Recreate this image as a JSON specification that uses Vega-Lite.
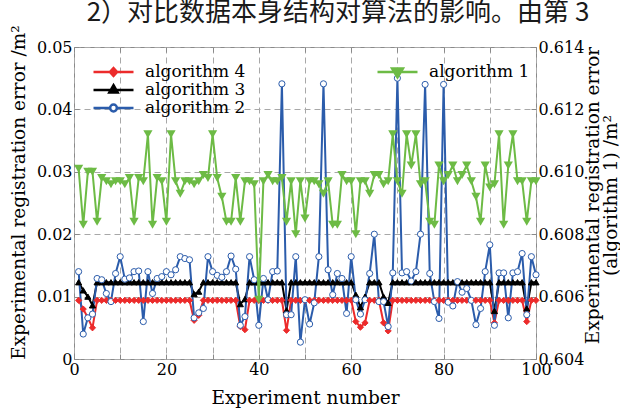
{
  "$schema": "https://vega.github.io/schema/vega-lite/v6.json",
  "width": 462,
  "height": 312,
  "autosize": {"type": "none"},
  "padding": {"left": 74, "top": 47, "right": 84, "bottom": 51},
  "background": "white",
  "title": {
    "text": "2）对比数据本身结构对算法的影响。由第 3",
    "anchor": "middle",
    "font": "Noto Sans CJK SC",
    "fontSize": 26,
    "fontWeight": "normal",
    "color": "#1a1a1a",
    "offset": 17,
    "dx": 33,
    "dy": 18
  },
  "config": {
    "font": "DejaVu Serif",
    "title": {"fontSize": 26, "font": "Noto Sans CJK SC", "fontWeight": "normal"},
    "view": {"stroke": "#8a8a8a", "strokeWidth": 1},
    "axis": {
      "labelFont": "DejaVu Serif",
      "labelFontSize": 16,
      "labelColor": "#000000",
      "titleFont": "DejaVu Serif",
      "titleFontSize": 18.5,
      "titleFontWeight": "normal",
      "titleColor": "#000000",
      "tickColor": "#8a8a8a",
      "tickSize": -5,
      "labelPadding": 7,
      "domain": false,
      "gridColor": "#a8a8a8",
      "gridDash": [6, 4],
      "gridWidth": 1,
      "labelFlush": false
    },
    "legend": {
      "labelFont": "DejaVu Serif",
      "labelFontSize": 17,
      "labelColor": "#000000"
    }
  },
  "data": {
    "values": [
      {"x":1,"algorithm 1":0.6101,"algorithm 2":0.0140,"algorithm 3":0.0123,"algorithm 4":0.0094},
      {"x":2,"algorithm 1":0.6083,"algorithm 2":0.0040,"algorithm 3":0.0110,"algorithm 4":0.0080},
      {"x":3,"algorithm 1":0.6100,"algorithm 2":0.0066,"algorithm 3":0.0100,"algorithm 4":0.0066},
      {"x":4,"algorithm 1":0.6100,"algorithm 2":0.0072,"algorithm 3":0.0086,"algorithm 4":0.0050},
      {"x":5,"algorithm 1":0.6084,"algorithm 2":0.0129,"algorithm 3":0.0123,"algorithm 4":0.0094},
      {"x":6,"algorithm 1":0.6098,"algorithm 2":0.0127,"algorithm 3":0.0123,"algorithm 4":0.0094},
      {"x":7,"algorithm 1":0.6097,"algorithm 2":0.0105,"algorithm 3":0.0123,"algorithm 4":0.0094},
      {"x":8,"algorithm 1":0.6096,"algorithm 2":0.0092,"algorithm 3":0.0123,"algorithm 4":0.0094},
      {"x":9,"algorithm 1":0.6097,"algorithm 2":0.0137,"algorithm 3":0.0123,"algorithm 4":0.0094},
      {"x":10,"algorithm 1":0.6097,"algorithm 2":0.0164,"algorithm 3":0.0123,"algorithm 4":0.0094},
      {"x":11,"algorithm 1":0.6096,"algorithm 2":0.0128,"algorithm 3":0.0123,"algorithm 4":0.0094},
      {"x":12,"algorithm 1":0.6098,"algorithm 2":0.0130,"algorithm 3":0.0123,"algorithm 4":0.0094},
      {"x":13,"algorithm 1":0.6084,"algorithm 2":0.0140,"algorithm 3":0.0123,"algorithm 4":0.0094},
      {"x":14,"algorithm 1":0.6098,"algorithm 2":0.0141,"algorithm 3":0.0123,"algorithm 4":0.0094},
      {"x":15,"algorithm 1":0.6097,"algorithm 2":0.0060,"algorithm 3":0.0123,"algorithm 4":0.0094},
      {"x":16,"algorithm 1":0.6112,"algorithm 2":0.0140,"algorithm 3":0.0123,"algorithm 4":0.0094},
      {"x":17,"algorithm 1":0.6083,"algorithm 2":0.0105,"algorithm 3":0.0123,"algorithm 4":0.0094},
      {"x":18,"algorithm 1":0.6098,"algorithm 2":0.0129,"algorithm 3":0.0123,"algorithm 4":0.0094},
      {"x":19,"algorithm 1":0.6097,"algorithm 2":0.0132,"algorithm 3":0.0123,"algorithm 4":0.0094},
      {"x":20,"algorithm 1":0.6084,"algorithm 2":0.0140,"algorithm 3":0.0123,"algorithm 4":0.0094},
      {"x":21,"algorithm 1":0.6112,"algorithm 2":0.0135,"algorithm 3":0.0123,"algorithm 4":0.0094},
      {"x":22,"algorithm 1":0.6097,"algorithm 2":0.0143,"algorithm 3":0.0123,"algorithm 4":0.0094},
      {"x":23,"algorithm 1":0.6093,"algorithm 2":0.0164,"algorithm 3":0.0123,"algorithm 4":0.0094},
      {"x":24,"algorithm 1":0.6097,"algorithm 2":0.0161,"algorithm 3":0.0123,"algorithm 4":0.0094},
      {"x":25,"algorithm 1":0.6097,"algorithm 2":0.0159,"algorithm 3":0.0123,"algorithm 4":0.0094},
      {"x":26,"algorithm 1":0.6096,"algorithm 2":0.0066,"algorithm 3":0.0104,"algorithm 4":0.0062},
      {"x":27,"algorithm 1":0.6097,"algorithm 2":0.0074,"algorithm 3":0.0108,"algorithm 4":0.0070},
      {"x":28,"algorithm 1":0.6099,"algorithm 2":0.0081,"algorithm 3":0.0123,"algorithm 4":0.0094},
      {"x":29,"algorithm 1":0.6098,"algorithm 2":0.0164,"algorithm 3":0.0123,"algorithm 4":0.0094},
      {"x":30,"algorithm 1":0.6112,"algorithm 2":0.0140,"algorithm 3":0.0123,"algorithm 4":0.0094},
      {"x":31,"algorithm 1":0.6098,"algorithm 2":0.0134,"algorithm 3":0.0123,"algorithm 4":0.0094},
      {"x":32,"algorithm 1":0.6092,"algorithm 2":0.0131,"algorithm 3":0.0123,"algorithm 4":0.0094},
      {"x":33,"algorithm 1":0.6084,"algorithm 2":0.0140,"algorithm 3":0.0123,"algorithm 4":0.0094},
      {"x":34,"algorithm 1":0.6084,"algorithm 2":0.0165,"algorithm 3":0.0123,"algorithm 4":0.0094},
      {"x":35,"algorithm 1":0.6098,"algorithm 2":0.0144,"algorithm 3":0.0123,"algorithm 4":0.0094},
      {"x":36,"algorithm 1":0.6084,"algorithm 2":0.0054,"algorithm 3":0.0088,"algorithm 4":0.0052},
      {"x":37,"algorithm 1":0.6097,"algorithm 2":0.0068,"algorithm 3":0.0096,"algorithm 4":0.0047},
      {"x":38,"algorithm 1":0.6097,"algorithm 2":0.0164,"algorithm 3":0.0123,"algorithm 4":0.0094},
      {"x":39,"algorithm 1":0.6096,"algorithm 2":0.0127,"algorithm 3":0.0123,"algorithm 4":0.0094},
      {"x":40,"algorithm 1":0.6059,"algorithm 2":0.0054,"algorithm 3":0.0123,"algorithm 4":0.0094},
      {"x":41,"algorithm 1":0.6097,"algorithm 2":0.0129,"algorithm 3":0.0123,"algorithm 4":0.0094},
      {"x":42,"algorithm 1":0.6099,"algorithm 2":0.0095,"algorithm 3":0.0123,"algorithm 4":0.0094},
      {"x":43,"algorithm 1":0.6097,"algorithm 2":0.0140,"algorithm 3":0.0123,"algorithm 4":0.0094},
      {"x":44,"algorithm 1":0.6097,"algorithm 2":0.0141,"algorithm 3":0.0123,"algorithm 4":0.0094},
      {"x":45,"algorithm 1":0.6098,"algorithm 2":0.0441,"algorithm 3":0.0123,"algorithm 4":0.0094},
      {"x":46,"algorithm 1":0.6084,"algorithm 2":0.0071,"algorithm 3":0.0078,"algorithm 4":0.0046},
      {"x":47,"algorithm 1":0.6097,"algorithm 2":0.0071,"algorithm 3":0.0123,"algorithm 4":0.0094},
      {"x":48,"algorithm 1":0.6080,"algorithm 2":0.0164,"algorithm 3":0.0123,"algorithm 4":0.0094},
      {"x":49,"algorithm 1":0.6097,"algorithm 2":0.0027,"algorithm 3":0.0123,"algorithm 4":0.0094},
      {"x":50,"algorithm 1":0.6085,"algorithm 2":0.0095,"algorithm 3":0.0123,"algorithm 4":0.0094},
      {"x":51,"algorithm 1":0.6097,"algorithm 2":0.0056,"algorithm 3":0.0123,"algorithm 4":0.0094},
      {"x":52,"algorithm 1":0.6097,"algorithm 2":0.0090,"algorithm 3":0.0123,"algorithm 4":0.0094},
      {"x":53,"algorithm 1":0.6096,"algorithm 2":0.0164,"algorithm 3":0.0123,"algorithm 4":0.0094},
      {"x":54,"algorithm 1":0.6093,"algorithm 2":0.0441,"algorithm 3":0.0123,"algorithm 4":0.0094},
      {"x":55,"algorithm 1":0.6097,"algorithm 2":0.0143,"algorithm 3":0.0123,"algorithm 4":0.0094},
      {"x":56,"algorithm 1":0.6083,"algorithm 2":0.0103,"algorithm 3":0.0123,"algorithm 4":0.0094},
      {"x":57,"algorithm 1":0.6083,"algorithm 2":0.0137,"algorithm 3":0.0123,"algorithm 4":0.0094},
      {"x":58,"algorithm 1":0.6099,"algorithm 2":0.0129,"algorithm 3":0.0123,"algorithm 4":0.0094},
      {"x":59,"algorithm 1":0.6097,"algorithm 2":0.0073,"algorithm 3":0.0123,"algorithm 4":0.0094},
      {"x":60,"algorithm 1":0.6097,"algorithm 2":0.0164,"algorithm 3":0.0123,"algorithm 4":0.0094},
      {"x":61,"algorithm 1":0.6080,"algorithm 2":0.0095,"algorithm 3":0.0103,"algorithm 4":0.0060},
      {"x":62,"algorithm 1":0.6097,"algorithm 2":0.0072,"algorithm 3":0.0083,"algorithm 4":0.0051},
      {"x":63,"algorithm 1":0.6097,"algorithm 2":0.0095,"algorithm 3":0.0100,"algorithm 4":0.0058},
      {"x":64,"algorithm 1":0.6093,"algorithm 2":0.0137,"algorithm 3":0.0123,"algorithm 4":0.0094},
      {"x":65,"algorithm 1":0.6099,"algorithm 2":0.0200,"algorithm 3":0.0123,"algorithm 4":0.0094},
      {"x":66,"algorithm 1":0.6099,"algorithm 2":0.0092,"algorithm 3":0.0123,"algorithm 4":0.0094},
      {"x":67,"algorithm 1":0.6096,"algorithm 2":0.0092,"algorithm 3":0.0100,"algorithm 4":0.0058},
      {"x":68,"algorithm 1":0.6097,"algorithm 2":0.0052,"algorithm 3":0.0090,"algorithm 4":0.0045},
      {"x":69,"algorithm 1":0.6112,"algorithm 2":0.0138,"algorithm 3":0.0123,"algorithm 4":0.0094},
      {"x":70,"algorithm 1":0.6097,"algorithm 2":0.0450,"algorithm 3":0.0123,"algorithm 4":0.0094},
      {"x":71,"algorithm 1":0.6093,"algorithm 2":0.0138,"algorithm 3":0.0123,"algorithm 4":0.0094},
      {"x":72,"algorithm 1":0.6112,"algorithm 2":0.0140,"algorithm 3":0.0123,"algorithm 4":0.0094},
      {"x":73,"algorithm 1":0.6102,"algorithm 2":0.0125,"algorithm 3":0.0123,"algorithm 4":0.0094},
      {"x":74,"algorithm 1":0.6112,"algorithm 2":0.0140,"algorithm 3":0.0123,"algorithm 4":0.0094},
      {"x":75,"algorithm 1":0.6096,"algorithm 2":0.0200,"algorithm 3":0.0123,"algorithm 4":0.0094},
      {"x":76,"algorithm 1":0.6097,"algorithm 2":0.0440,"algorithm 3":0.0123,"algorithm 4":0.0094},
      {"x":77,"algorithm 1":0.6084,"algorithm 2":0.0137,"algorithm 3":0.0123,"algorithm 4":0.0094},
      {"x":78,"algorithm 1":0.6083,"algorithm 2":0.0092,"algorithm 3":0.0123,"algorithm 4":0.0094},
      {"x":79,"algorithm 1":0.6102,"algorithm 2":0.0065,"algorithm 3":0.0123,"algorithm 4":0.0094},
      {"x":80,"algorithm 1":0.6097,"algorithm 2":0.0440,"algorithm 3":0.0123,"algorithm 4":0.0094},
      {"x":81,"algorithm 1":0.6099,"algorithm 2":0.0091,"algorithm 3":0.0123,"algorithm 4":0.0094},
      {"x":82,"algorithm 1":0.6102,"algorithm 2":0.0085,"algorithm 3":0.0123,"algorithm 4":0.0094},
      {"x":83,"algorithm 1":0.6097,"algorithm 2":0.0124,"algorithm 3":0.0123,"algorithm 4":0.0094},
      {"x":84,"algorithm 1":0.6099,"algorithm 2":0.0107,"algorithm 3":0.0123,"algorithm 4":0.0094},
      {"x":85,"algorithm 1":0.6102,"algorithm 2":0.0113,"algorithm 3":0.0123,"algorithm 4":0.0094},
      {"x":86,"algorithm 1":0.6097,"algorithm 2":0.0094,"algorithm 3":0.0123,"algorithm 4":0.0094},
      {"x":87,"algorithm 1":0.6092,"algorithm 2":0.0055,"algorithm 3":0.0123,"algorithm 4":0.0094},
      {"x":88,"algorithm 1":0.6084,"algorithm 2":0.0081,"algorithm 3":0.0123,"algorithm 4":0.0094},
      {"x":89,"algorithm 1":0.6102,"algorithm 2":0.0140,"algorithm 3":0.0123,"algorithm 4":0.0094},
      {"x":90,"algorithm 1":0.6095,"algorithm 2":0.0183,"algorithm 3":0.0123,"algorithm 4":0.0094},
      {"x":91,"algorithm 1":0.6096,"algorithm 2":0.0054,"algorithm 3":0.0077,"algorithm 4":0.0058},
      {"x":92,"algorithm 1":0.6112,"algorithm 2":0.0138,"algorithm 3":0.0123,"algorithm 4":0.0094},
      {"x":93,"algorithm 1":0.6083,"algorithm 2":0.0138,"algorithm 3":0.0123,"algorithm 4":0.0094},
      {"x":94,"algorithm 1":0.6102,"algorithm 2":0.0066,"algorithm 3":0.0123,"algorithm 4":0.0094},
      {"x":95,"algorithm 1":0.6112,"algorithm 2":0.0138,"algorithm 3":0.0123,"algorithm 4":0.0094},
      {"x":96,"algorithm 1":0.6097,"algorithm 2":0.0140,"algorithm 3":0.0123,"algorithm 4":0.0094},
      {"x":97,"algorithm 1":0.6097,"algorithm 2":0.0169,"algorithm 3":0.0123,"algorithm 4":0.0094},
      {"x":98,"algorithm 1":0.6084,"algorithm 2":0.0071,"algorithm 3":0.0081,"algorithm 4":0.0060},
      {"x":99,"algorithm 1":0.6097,"algorithm 2":0.0164,"algorithm 3":0.0123,"algorithm 4":0.0094},
      {"x":100,"algorithm 1":0.6097,"algorithm 2":0.0135,"algorithm 3":0.0123,"algorithm 4":0.0094}
    ]
  },
  "layer": [
    {
      "transform": [{"fold": ["algorithm 4", "algorithm 3", "algorithm 2"], "as": ["series", "v"]}],
      "encoding": {
        "x": {
          "field": "x",
          "type": "quantitative",
          "scale": {"domain": [0, 100], "nice": false, "zero": false},
          "axis": {
            "orient": "bottom",
            "values": [0, 10, 20, 30, 40, 50, 60, 70, 80, 90, 100],
            "labelExpr": "datum.value % 20 == 0 ? datum.label : ''",
            "grid": true,
            "title": "Experiment number",
            "titlePadding": 11
          }
        },
        "y": {
          "field": "v",
          "type": "quantitative",
          "scale": {"domain": [0, 0.05], "nice": false, "zero": false},
          "axis": {
            "orient": "left",
            "values": [0, 0.01, 0.02, 0.03, 0.04, 0.05],
            "format": ".2~f",
            "grid": true,
            "title": "Experimental registration error /m²",
            "titleX": -56,
            "titleY": 145,
            "titleAngle": -90,
            "titleAlign": "center",
            "titleBaseline": "middle"
          }
        }
      },
      "layer": [
        {
          "mark": {"type": "line", "strokeWidth": 2},
          "encoding": {
            "color": {
              "field": "series",
              "type": "nominal",
              "scale": {"domain": ["algorithm 4", "algorithm 3", "algorithm 2"], "range": ["#ec2b2b", "#000000", "#2b5cab"]},
              "legend": null
            }
          }
        },
        {
          "mark": {"type": "point", "opacity": 1},
          "encoding": {
            "shape": {
              "field": "series",
              "type": "nominal",
              "scale": {"domain": ["algorithm 4", "algorithm 3", "algorithm 2"], "range": ["diamond", "triangle-up", "circle"]},
              "legend": null
            },
            "fill": {
              "field": "series",
              "type": "nominal",
              "scale": {"domain": ["algorithm 4", "algorithm 3", "algorithm 2"], "range": ["#ec2b2b", "#000000", "#ffffff"]},
              "legend": null
            },
            "stroke": {
              "field": "series",
              "type": "nominal",
              "scale": {"domain": ["algorithm 4", "algorithm 3", "algorithm 2"], "range": ["#ec2b2b", "#000000", "#2b5cab"]},
              "legend": null
            },
            "size": {
              "field": "series",
              "type": "nominal",
              "scale": {"domain": ["algorithm 4", "algorithm 3", "algorithm 2"], "range": [38, 38, 42]},
              "legend": null
            },
            "strokeWidth": {
              "field": "series",
              "type": "nominal",
              "scale": {"domain": ["algorithm 4", "algorithm 3", "algorithm 2"], "range": [1, 1, 1.8]},
              "legend": null
            }
          }
        },
        {
          "transform": [{"filter": "datum.x < 0"}],
          "mark": {"type": "point", "opacity": 1},
          "encoding": {
            "shape": {
              "field": "series",
              "type": "nominal",
              "scale": {"domain": ["algorithm 4", "algorithm 3", "algorithm 2"], "range": [
                "M-1,0H1M0,-0.2L0.18,0L0,0.2L-0.18,0Z",
                "M-1,0H1M0,-0.24L0.21,0.13L-0.21,0.13Z",
                "M-1,0H-0.17M0.17,0H1M-0.17,0A0.17,0.17,0,1,1,0.17,0A0.17,0.17,0,1,1,-0.17,0Z"
              ]},
              "legend": {"orient": "none", "legendX": 18, "legendY": 16, "title": null, "symbolSize": 1600, "symbolStrokeWidth": 2.5, "clipHeight": 18, "rowPadding": 0, "labelOffset": 10, "padding": 0, "labelLimit": 300}
            },
            "fill": {
              "field": "series",
              "type": "nominal",
              "scale": {"domain": ["algorithm 4", "algorithm 3", "algorithm 2"], "range": ["#ec2b2b", "#000000", "#ffffff"]},
              "legend": {"orient": "none", "legendX": 18, "legendY": 16, "title": null, "symbolSize": 1600, "symbolStrokeWidth": 2.5, "clipHeight": 18, "rowPadding": 0, "labelOffset": 10, "padding": 0, "labelLimit": 300}
            },
            "stroke": {
              "field": "series",
              "type": "nominal",
              "scale": {"domain": ["algorithm 4", "algorithm 3", "algorithm 2"], "range": ["#ec2b2b", "#000000", "#2b5cab"]},
              "legend": {"orient": "none", "legendX": 18, "legendY": 16, "title": null, "symbolSize": 1600, "symbolStrokeWidth": 2.5, "clipHeight": 18, "rowPadding": 0, "labelOffset": 10, "padding": 0, "labelLimit": 300}
            }
          }
        }
      ],
      "resolve": {"scale": {"color": "independent", "fill": "independent", "stroke": "independent", "shape": "independent", "size": "independent", "strokeWidth": "independent"}}
    },
    {
      "encoding": {
        "x": {
          "field": "x",
          "type": "quantitative",
          "axis": {
            "orient": "top",
            "values": [0, 10, 20, 30, 40, 50, 60, 70, 80, 90, 100],
            "labels": false,
            "grid": false,
            "title": null
          }
        },
        "y": {
          "field": "algorithm 1",
          "type": "quantitative",
          "scale": {"domain": [0.604, 0.614], "nice": false, "zero": false},
          "axis": {
            "orient": "right",
            "values": [0.604, 0.606, 0.608, 0.61, 0.612, 0.614],
            "format": ".3f",
            "grid": false,
            "title": ["Experimental registration error", "(algorithm 1) /m²"],
            "titleX": 56,
            "titleY": 148,
            "titleAngle": -90,
            "titleAlign": "center",
            "titleBaseline": "middle",
            "titleLineHeight": 18
          }
        }
      },
      "layer": [
        {"mark": {"type": "line", "color": "#6dbb45", "strokeWidth": 2}},
        {"mark": {"type": "point", "shape": "triangle-down", "filled": true, "color": "#6dbb45", "size": 85, "opacity": 1}},
        {
          "transform": [{"filter": "datum.x < 0"}, {"fold": ["algorithm 1"], "as": ["series", "v"]}],
          "mark": {"type": "point", "opacity": 1},
          "encoding": {
            "shape": {
              "field": "series",
              "type": "nominal",
              "scale": {"domain": ["algorithm 1"], "range": ["M-1,0H1M-0.27,-0.17H0.27L0,0.27Z"]},
              "legend": {"orient": "none", "legendX": 302, "legendY": 16, "title": null, "symbolSize": 1600, "symbolStrokeWidth": 2.5, "clipHeight": 18, "rowPadding": 0, "labelOffset": 10, "padding": 0, "labelLimit": 300}
            },
            "fill": {
              "field": "series",
              "type": "nominal",
              "scale": {"domain": ["algorithm 1"], "range": ["#6dbb45"]},
              "legend": {"orient": "none", "legendX": 302, "legendY": 16, "title": null, "symbolSize": 1600, "symbolStrokeWidth": 2.5, "clipHeight": 18, "rowPadding": 0, "labelOffset": 10, "padding": 0, "labelLimit": 300}
            },
            "stroke": {
              "field": "series",
              "type": "nominal",
              "scale": {"domain": ["algorithm 1"], "range": ["#6dbb45"]},
              "legend": {"orient": "none", "legendX": 302, "legendY": 16, "title": null, "symbolSize": 1600, "symbolStrokeWidth": 2.5, "clipHeight": 18, "rowPadding": 0, "labelOffset": 10, "padding": 0, "labelLimit": 300}
            }
          }
        }
      ]
    }
  ],
  "resolve": {
    "scale": {"y": "independent", "color": "independent", "fill": "independent", "stroke": "independent", "shape": "independent", "size": "independent", "strokeWidth": "independent"},
    "axis": {"x": "independent"}
  }
}
